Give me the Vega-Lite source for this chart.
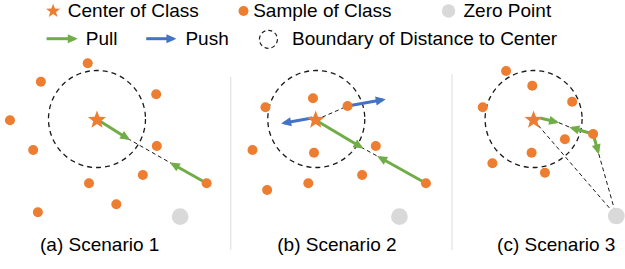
{
  "$schema": "https://vega.github.io/schema/vega-lite/v6.json",
  "width": 625,
  "height": 269,
  "autosize": {"type": "fit", "contains": "padding"},
  "padding": 0,
  "background": "white",
  "config": {"view": {"stroke": null}},
  "datasets": {
    "seps": [
      {"x": 231.5, "y": 77, "y2": 250},
      {"x": 453.5, "y": 74, "y2": 250}
    ],
    "bounds": [
      {"x": 97.3, "y": 119},
      {"x": 317.3, "y": 119},
      {"x": 535.3, "y": 119}
    ],
    "dashes": [
      {"x": 128, "y": 138.5, "x2": 173, "y2": 164},
      {"x": 316.7, "y": 120, "x2": 348.7, "y2": 106},
      {"x": 362, "y": 147, "x2": 381, "y2": 157.5},
      {"x": 560.7, "y": 122.7, "x2": 571.7, "y2": 127.3},
      {"x": 535.3, "y": 120, "x2": 618.3, "y2": 216},
      {"x": 600.7, "y": 154, "x2": 618.3, "y2": 216}
    ],
    "arrows": [
      {"x": 100, "y": 121, "x2": 128, "y2": 138.5, "kind": "pull"},
      {"x": 207.3, "y": 183.3, "x2": 173, "y2": 164, "kind": "pull"},
      {"x": 319, "y": 121.5, "x2": 362, "y2": 147, "kind": "pull"},
      {"x": 427.3, "y": 183.3, "x2": 381, "y2": 157.5, "kind": "pull"},
      {"x": 313, "y": 118, "x2": 285, "y2": 123, "kind": "push"},
      {"x": 348.7, "y": 106, "x2": 384, "y2": 99.8, "kind": "push"},
      {"x": 542, "y": 118, "x2": 558, "y2": 122, "kind": "pull"},
      {"x": 595, "y": 134, "x2": 574, "y2": 128, "kind": "pull"},
      {"x": 595, "y": 134, "x2": 600, "y2": 151.5, "kind": "pull"},
      {"x": 46.7, "y": 38.7, "x2": 75, "y2": 38.7, "kind": "pull"},
      {"x": 146.7, "y": 38.7, "x2": 174, "y2": 38.7, "kind": "push"}
    ],
    "samples": [
      {"x": 88, "y": 63.3}, {"x": 41, "y": 81.7}, {"x": 156.7, "y": 94.3},
      {"x": 10, "y": 120.3}, {"x": 33.3, "y": 150}, {"x": 157.3, "y": 146},
      {"x": 143.3, "y": 175}, {"x": 89.3, "y": 183.3}, {"x": 207.3, "y": 183.3},
      {"x": 116.7, "y": 204.3}, {"x": 38, "y": 212.3},
      {"x": 314, "y": 98.3}, {"x": 266.3, "y": 107.3}, {"x": 348.7, "y": 106},
      {"x": 253.3, "y": 150}, {"x": 315, "y": 152.7}, {"x": 377, "y": 146},
      {"x": 363.3, "y": 175}, {"x": 309.3, "y": 183.3}, {"x": 427.3, "y": 183.3},
      {"x": 268, "y": 190},
      {"x": 507.7, "y": 71}, {"x": 534, "y": 85.7}, {"x": 484.3, "y": 107.3},
      {"x": 574, "y": 101.7}, {"x": 566.7, "y": 139.3}, {"x": 595, "y": 134},
      {"x": 533.3, "y": 152.7}, {"x": 494, "y": 163.3}, {"x": 546.7, "y": 172.7},
      {"x": 244.3, "y": 11}
    ],
    "centers": [
      {"x": 97.3, "y": 120},
      {"x": 316.7, "y": 120},
      {"x": 535.3, "y": 120}
    ],
    "zeros": [
      {"x": 180.7, "y": 216.7},
      {"x": 400.7, "y": 216.7},
      {"x": 618.3, "y": 216}
    ],
    "legendStar": [{"x": 53.3, "y": 11}],
    "legendZero": [{"x": 450, "y": 11}],
    "legendBound": [{"x": 269.3, "y": 39.3}],
    "legendText": [
      {"x": 68, "y": 11, "text": "Center of Class"},
      {"x": 254, "y": 11, "text": "Sample of Class"},
      {"x": 465, "y": 11, "text": "Zero Point"},
      {"x": 86, "y": 39, "text": "Pull"},
      {"x": 186, "y": 39, "text": "Push"},
      {"x": 293, "y": 39, "text": "Boundary of Distance to Center"}
    ],
    "captions": [
      {"x": 100, "y": 245, "text": "(a) Scenario 1"},
      {"x": 338, "y": 245, "text": "(b) Scenario 2"},
      {"x": 558, "y": 245, "text": "(c) Scenario 3"}
    ]
  },
  "encoding": {
    "x": {"field": "x", "type": "quantitative", "scale": {"domain": [0, 625], "nice": false, "zero": false}, "axis": null},
    "y": {"field": "y", "type": "quantitative", "scale": {"domain": [269, 0], "nice": false, "zero": false}, "axis": null}
  },
  "layer": [
    {
      "data": {"name": "seps"},
      "mark": {"type": "rule", "color": "#dcdcdc", "strokeWidth": 1},
      "encoding": {"y2": {"field": "y2"}}
    },
    {
      "data": {"name": "bounds"},
      "mark": {"type": "point", "shape": "circle", "size": 9409, "filled": false, "stroke": "#1a1a1a", "strokeWidth": 1.3, "strokeDash": [5, 4], "opacity": 1}
    },
    {
      "data": {"name": "legendBound"},
      "mark": {"type": "point", "shape": "circle", "size": 324, "filled": false, "stroke": "#1a1a1a", "strokeWidth": 1.2, "strokeDash": [4, 3], "opacity": 1}
    },
    {
      "data": {"name": "dashes"},
      "mark": {"type": "rule", "color": "#1a1a1a", "strokeWidth": 1, "strokeDash": [4, 3]},
      "encoding": {"x2": {"field": "x2"}, "y2": {"field": "y2"}}
    },
    {
      "data": {"name": "arrows"},
      "mark": {"type": "rule", "strokeWidth": 3},
      "encoding": {
        "x2": {"field": "x2"},
        "y2": {"field": "y2"},
        "color": {"field": "kind", "type": "nominal", "scale": {"domain": ["pull", "push"], "range": ["#70AD47", "#4472C4"]}, "legend": null}
      }
    },
    {
      "data": {"name": "arrows"},
      "transform": [{"calculate": "atan2(datum.y2 - datum.y, datum.x2 - datum.x) * 180 / PI", "as": "ang"}],
      "mark": {"type": "point", "shape": "M0.6,0L-1.4,-0.9L-1.4,0.9Z", "size": 100, "filled": true, "opacity": 1, "strokeWidth": 0},
      "encoding": {
        "x": {"field": "x2", "type": "quantitative"},
        "y": {"field": "y2", "type": "quantitative"},
        "angle": {"field": "ang", "type": "quantitative", "scale": null},
        "fill": {"field": "kind", "type": "nominal", "scale": {"domain": ["pull", "push"], "range": ["#70AD47", "#4472C4"]}, "legend": null}
      }
    },
    {
      "data": {"name": "samples"},
      "mark": {"type": "point", "shape": "circle", "size": 100, "filled": true, "color": "#ED7D31", "opacity": 1, "strokeWidth": 0}
    },
    {
      "data": {"name": "zeros"},
      "mark": {"type": "point", "shape": "circle", "size": 280, "filled": true, "color": "#D9D9D9", "opacity": 1, "strokeWidth": 0}
    },
    {
      "data": {"name": "legendZero"},
      "mark": {"type": "point", "shape": "circle", "size": 180, "filled": true, "color": "#D9D9D9", "opacity": 1, "strokeWidth": 0}
    },
    {
      "data": {"name": "centers"},
      "mark": {"type": "point", "shape": "M0,-1L0.247,-0.34L0.951,-0.309L0.399,0.13L0.588,0.809L0,0.42L-0.588,0.809L-0.399,0.13L-0.951,-0.309L-0.247,-0.34Z", "size": 360, "filled": true, "color": "#ED7D31", "opacity": 1, "strokeWidth": 0}
    },
    {
      "data": {"name": "legendStar"},
      "mark": {"type": "point", "shape": "M0,-1L0.247,-0.34L0.951,-0.309L0.399,0.13L0.588,0.809L0,0.42L-0.588,0.809L-0.399,0.13L-0.951,-0.309L-0.247,-0.34Z", "size": 217, "filled": true, "color": "#ED7D31", "opacity": 1, "strokeWidth": 0}
    },
    {
      "data": {"name": "legendText"},
      "mark": {"type": "text", "align": "left", "baseline": "middle", "font": "Liberation Sans", "fontSize": 19, "color": "black"},
      "encoding": {"text": {"field": "text"}}
    },
    {
      "data": {"name": "captions"},
      "mark": {"type": "text", "align": "center", "baseline": "middle", "font": "Liberation Sans", "fontSize": 19, "color": "black"},
      "encoding": {"text": {"field": "text"}}
    }
  ]
}
